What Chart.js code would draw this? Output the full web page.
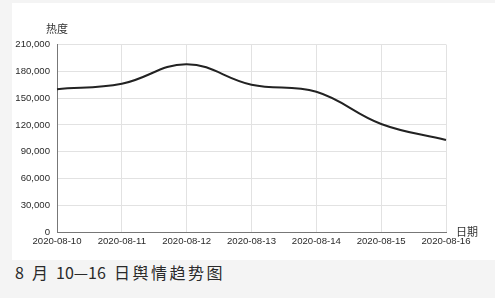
<!DOCTYPE html>
<html>
<head>
<meta charset="utf-8">
<script src="https://cdn.jsdelivr.net/npm/chart.js@4.4.0/dist/chart.umd.min.js"></script>
<style>
  html, body {
    margin: 0;
    padding: 0;
    background: #f4f4f4;
    width: 495px;
    height: 298px;
    overflow: hidden;
  }
  .card {
    position: absolute;
    left: 12px;
    top: 3px;
    width: 483px;
    height: 257px;
    background: #ffffff;
  }
  .legenda {
    position: absolute;
    left: 15px;
    top: 260px;
    font-family: "Noto Sans CJK SC", sans-serif;
    font-size: 16px;
    color: #2a2a2a;
    white-space: pre;
    word-spacing: 4.5px;
  }
  .legenda .cjk {
    letter-spacing: 2.5px;
  }
</style>
</head>
<body>
<div class="card">
  <canvas id="graficoTrend" width="483" height="257"></canvas>
</div>
<div class="legenda">8 月 10—16 <span class="cjk">日舆情趋势图</span></div>

<script>
/* ============================================================
DADOS
============================================================ */

const dias = [
  "2020-08-10",
  "2020-08-11",
  "2020-08-12",
  "2020-08-13",
  "2020-08-14",
  "2020-08-15",
  "2020-08-16",
];

const heat = [160000, 166000, 188000, 165000, 157000, 121000, 103000];

const yMin = 0;
const yMax = 210000;
const yStep = 30000;

const nomeY = "热度";
const nomeX = "日期";

/* ============================================================
PLUGIN NOMES DOS EIXOS
============================================================ */

const axisNamePlugin = {
  id: "axisNames",
  afterDraw(chart) {
    const { ctx, chartArea } = chart;
    ctx.save();
    ctx.font = "11px 'Noto Sans CJK SC', sans-serif";
    ctx.fillStyle = "#333";

    ctx.textAlign = "center";
    ctx.textBaseline = "middle";
    ctx.fillText(nomeY, chartArea.left, chartArea.top - 16);

    ctx.textAlign = "left";
    ctx.fillText(nomeX, chartArea.right + 10, chartArea.bottom);
    ctx.restore();
  },
};

Chart.register(axisNamePlugin);

/* ============================================================
GRÁFICO
============================================================ */

const tickFont = { family: "'Liberation Sans', Arial, sans-serif", size: 9.6 };

new Chart(document.getElementById("graficoTrend"), {
  type: "line",

  data: {
    labels: dias,
    datasets: [
      {
        data: heat,
        borderColor: "#222222",
        borderWidth: 2,
        tension: 0.4,
        pointRadius: 0,
        fill: false,
      },
    ],
  },

  options: {
    responsive: false,
    animation: false,
    layout: {
      padding: { left: 0, top: 41.5, right: 49, bottom: 0 },
    },
    plugins: {
      legend: { display: false },
      tooltip: { enabled: false },
    },
    scales: {
      x: {
        offset: false,
        grid: { color: "#e2e2e2", drawTicks: false },
        border: { color: "#777", width: 1 },
        ticks: {
          font: tickFont,
          color: "#2a2a2a",
          padding: 4,
          maxRotation: 0,
          autoSkip: false,
        },
        afterFit(scale) {
          scale.height = 28;
        },
      },
      y: {
        min: yMin,
        max: yMax,
        grid: { color: "#e2e2e2", drawTicks: false },
        border: { color: "#777", width: 1 },
        ticks: {
          stepSize: yStep,
          font: tickFont,
          color: "#2a2a2a",
          padding: 7,
          callback: (v) => v.toLocaleString("en-US"),
        },
        afterFit(scale) {
          scale.width = 45;
        },
      },
    },
  },
});
</script>
</body>
</html>
